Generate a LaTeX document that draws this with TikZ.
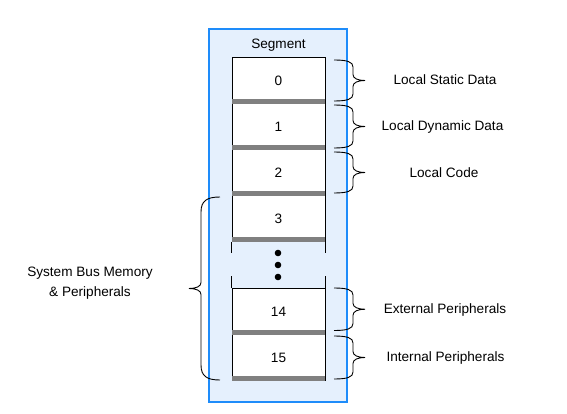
\documentclass[tikz,border=0pt]{standalone}
\usepackage{fontspec}
\setmainfont{Liberation Sans}
\definecolor{frameblue}{RGB}{30,140,250}
\definecolor{paleblue}{RGB}{229,240,253}
\definecolor{bargray}{RGB}{128,128,128}
\newcommand\myBrace[5]{% x, ytop, ybot, direction (1 right / -1 left), end curl
  \pgfmathsetmacro\bm{(#2+#3)/2}%
  \draw[bracestyle] (#1,#2) .. controls ({#1+#4*13},#2) and ({#1+#4*19},{#2+#5*0.25}) .. ({#1+#4*19},{#2+#5})
    -- ({#1+#4*19},{\bm-6}) .. controls ({#1+#4*19},{\bm-2}) and ({#1+#4*24},\bm) .. ({#1+#4*31},\bm)
    .. controls ({#1+#4*24},\bm) and ({#1+#4*19},{\bm+2}) .. ({#1+#4*19},{\bm+6})
    -- ({#1+#4*19},{#3-#5}) .. controls ({#1+#4*19},{#3-#5*0.25}) and ({#1+#4*13},#3) .. (#1,#3);}
\begin{document}
\begin{tikzpicture}[x=1pt,y=-1pt,
  txt/.style={font=\fontsize{13.6pt}{17pt}\selectfont, text=black, inner sep=0pt},
  seg/.style={txt, draw=black, line width=0.8pt, fill=white, minimum width=93pt, minimum height=46pt},
  lbl/.style={txt, align=center},
  dotnode/.style={circle, fill=black, minimum size=6.6pt, inner sep=0pt},
  bracestyle/.style={draw=black, line width=0.9pt},
  stub/.style={draw=black, line width=0.8pt}]
\useasboundingbox (0,0) rectangle (567,414);
\fill[white] (0,0) rectangle (567,414);
% outer frame
\draw[frameblue, fill=paleblue, line width=2pt] (209,29) rectangle (347,402);
\node[txt] (title) at (278.5,45) {Segment};
% segment boxes
\node[seg] (s0) at (278.5,80.5) {0};
\node[seg] (s1) at (278.5,126.5) {1};
\node[seg] (s2) at (278.5,172.5) {2};
\node[seg] (s3) at (278.5,218.5) {3};
\node[seg] (s14) at (278.5,311.5) {14};
\node[seg] (s15) at (278.5,357.5) {15};
\foreach \s in {s0,s1,s2,s3,s14,s15}{
  \fill[bargray] ([yshift=0.2pt]\s.south west) rectangle ([yshift=5.2pt]\s.south east);
}
% stubs in the gap
\draw[stub] (s3.south west) -- ++(0,11);
\draw[stub] (s3.south east) -- ++(0,11);
\draw[stub] (s14.north west) -- ++(0,-12.5);
\draw[stub] (s14.north east) -- ++(0,-12.5);
% dots
\node[dotnode] (d1) at (278,253) {};
\node[dotnode] (d2) at (278,265) {};
\node[dotnode] (d3) at (278,277) {};
% right braces
\myBrace{334}{60}{101}{1}{7}
\myBrace{334}{105}{148}{1}{7}
\myBrace{334}{152}{193}{1}{7}
\myBrace{334}{288}{330.5}{1}{7}
\myBrace{334}{336}{379}{1}{7}
% left brace
\myBrace{220}{197}{380}{-1}{15}
% labels
\node[lbl] (l0) at (445,80) {Local Static Data};
\node[lbl] (l1) at (442.5,127) {Local Dynamic Data};
\node[lbl] (l2) at (444,173) {Local Code};
\node[lbl] (l14) at (445,310) {External Peripherals};
\node[lbl] (l15) at (445.5,358) {Internal Peripherals};
\node[lbl] (lsys) at (90,283) {System Bus Memory\\[3pt]\& Peripherals};
\end{tikzpicture}
\end{document}
